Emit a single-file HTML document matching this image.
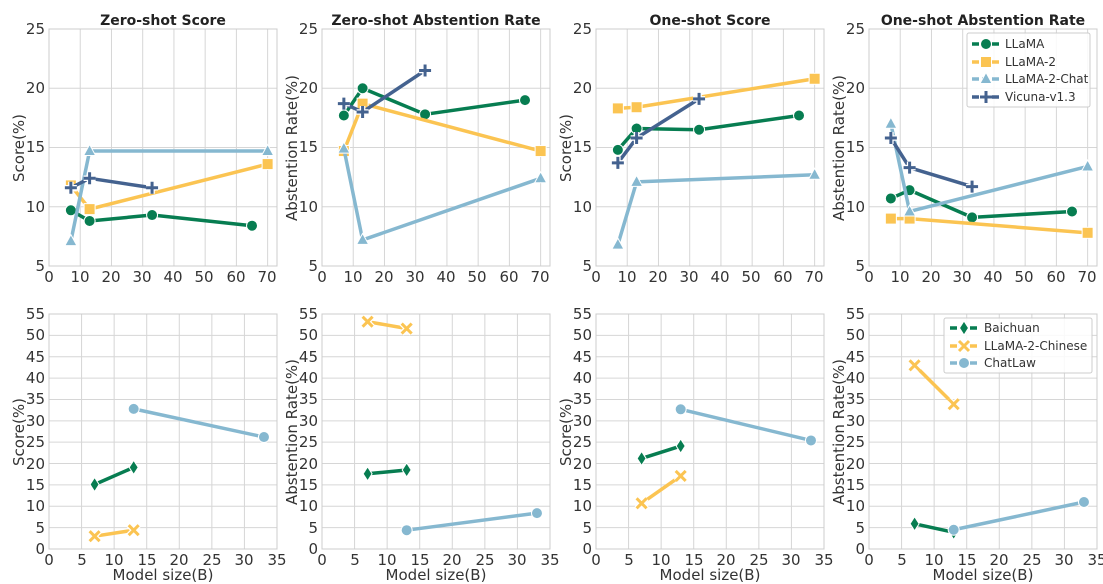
<!DOCTYPE html>
<html><head><meta charset="utf-8"><style>
body{margin:0;background:#fff}
svg{display:block;font-family:"DejaVu Sans","Liberation Sans",sans-serif;}
.t{font-size:15px;fill:#333}
.ti{font-size:14px;font-weight:bold;fill:#222}
.lg{font-size:12px;fill:#333}
</style></head><body>
<svg id="s" width="1103" height="584" xmlns="http://www.w3.org/2000/svg">
<g id="grid"></g>
<g id="ser"></g>
<text class="ti" x="163" y="25" text-anchor="middle">Zero-shot Score</text>
<text class="ti" x="436" y="25" text-anchor="middle">Zero-shot Abstention Rate</text>
<text class="ti" x="710" y="25" text-anchor="middle">One-shot Score</text>
<text class="ti" x="983" y="25" text-anchor="middle">One-shot Abstention Rate</text>
<text class="t" transform="translate(24,148) rotate(-90)" text-anchor="middle">Score(%)</text>
<text class="t" transform="translate(297,148) rotate(-90)" text-anchor="middle">Abstention Rate(%)</text>
<text class="t" transform="translate(571,148) rotate(-90)" text-anchor="middle">Score(%)</text>
<text class="t" transform="translate(844,148) rotate(-90)" text-anchor="middle">Abstention Rate(%)</text>
<text class="t" transform="translate(24,432) rotate(-90)" text-anchor="middle">Score(%)</text>
<text class="t" transform="translate(297,432) rotate(-90)" text-anchor="middle">Abstention Rate(%)</text>
<text class="t" transform="translate(571,432) rotate(-90)" text-anchor="middle">Score(%)</text>
<text class="t" transform="translate(844,432) rotate(-90)" text-anchor="middle">Abstention Rate(%)</text>
<text class="t" x="163" y="580" text-anchor="middle">Model size(B)</text>
<text class="t" x="436" y="580" text-anchor="middle">Model size(B)</text>
<text class="t" x="710" y="580" text-anchor="middle">Model size(B)</text>
<text class="t" x="983" y="580" text-anchor="middle">Model size(B)</text>
<g transform="translate(49,29)" class="t">
<g text-anchor="end"><text x="-4" y="5">25</text><text x="-4" y="64">20</text><text x="-4" y="123">15</text><text x="-4" y="183">10</text><text x="-4" y="242">5</text></g>
<g text-anchor="middle"><text x="0" y="253">0</text><text x="31" y="253">10</text><text x="62" y="253">20</text><text x="93" y="253">30</text><text x="124" y="253">40</text><text x="155" y="253">50</text><text x="187" y="253">60</text><text x="218" y="253">70</text></g>
</g>
<g transform="translate(322,29)" class="t">
<g text-anchor="end"><text x="-4" y="5">25</text><text x="-4" y="64">20</text><text x="-4" y="123">15</text><text x="-4" y="183">10</text><text x="-4" y="242">5</text></g>
<g text-anchor="middle"><text x="0" y="253">0</text><text x="31" y="253">10</text><text x="62" y="253">20</text><text x="93" y="253">30</text><text x="124" y="253">40</text><text x="155" y="253">50</text><text x="187" y="253">60</text><text x="218" y="253">70</text></g>
</g>
<g transform="translate(596,29)" class="t">
<g text-anchor="end"><text x="-4" y="5">25</text><text x="-4" y="64">20</text><text x="-4" y="123">15</text><text x="-4" y="183">10</text><text x="-4" y="242">5</text></g>
<g text-anchor="middle"><text x="0" y="253">0</text><text x="31" y="253">10</text><text x="62" y="253">20</text><text x="93" y="253">30</text><text x="124" y="253">40</text><text x="155" y="253">50</text><text x="187" y="253">60</text><text x="218" y="253">70</text></g>
</g>
<g transform="translate(869,29)" class="t">
<g text-anchor="end"><text x="-4" y="5">25</text><text x="-4" y="64">20</text><text x="-4" y="123">15</text><text x="-4" y="183">10</text><text x="-4" y="242">5</text></g>
<g text-anchor="middle"><text x="0" y="253">0</text><text x="31" y="253">10</text><text x="62" y="253">20</text><text x="93" y="253">30</text><text x="124" y="253">40</text><text x="155" y="253">50</text><text x="187" y="253">60</text><text x="218" y="253">70</text></g>
</g>
<g transform="translate(49,314)" class="t">
<g text-anchor="end"><text x="-4" y="5">55</text><text x="-4" y="26">50</text><text x="-4" y="48">45</text><text x="-4" y="69">40</text><text x="-4" y="90">35</text><text x="-4" y="112">30</text><text x="-4" y="133">25</text><text x="-4" y="155">20</text><text x="-4" y="176">15</text><text x="-4" y="197">10</text><text x="-4" y="219">5</text><text x="-4" y="240">0</text></g>
<g text-anchor="middle"><text x="0" y="251">0</text><text x="33" y="251">5</text><text x="65" y="251">10</text><text x="98" y="251">15</text><text x="130" y="251">20</text><text x="163" y="251">25</text><text x="195" y="251">30</text><text x="228" y="251">35</text></g>
</g>
<g transform="translate(322,314)" class="t">
<g text-anchor="end"><text x="-4" y="5">55</text><text x="-4" y="26">50</text><text x="-4" y="48">45</text><text x="-4" y="69">40</text><text x="-4" y="90">35</text><text x="-4" y="112">30</text><text x="-4" y="133">25</text><text x="-4" y="155">20</text><text x="-4" y="176">15</text><text x="-4" y="197">10</text><text x="-4" y="219">5</text><text x="-4" y="240">0</text></g>
<g text-anchor="middle"><text x="0" y="251">0</text><text x="33" y="251">5</text><text x="65" y="251">10</text><text x="98" y="251">15</text><text x="130" y="251">20</text><text x="163" y="251">25</text><text x="195" y="251">30</text><text x="228" y="251">35</text></g>
</g>
<g transform="translate(596,314)" class="t">
<g text-anchor="end"><text x="-4" y="5">55</text><text x="-4" y="26">50</text><text x="-4" y="48">45</text><text x="-4" y="69">40</text><text x="-4" y="90">35</text><text x="-4" y="112">30</text><text x="-4" y="133">25</text><text x="-4" y="155">20</text><text x="-4" y="176">15</text><text x="-4" y="197">10</text><text x="-4" y="219">5</text><text x="-4" y="240">0</text></g>
<g text-anchor="middle"><text x="0" y="251">0</text><text x="33" y="251">5</text><text x="65" y="251">10</text><text x="98" y="251">15</text><text x="130" y="251">20</text><text x="163" y="251">25</text><text x="195" y="251">30</text><text x="228" y="251">35</text></g>
</g>
<g transform="translate(869,314)" class="t">
<g text-anchor="end"><text x="-4" y="5">55</text><text x="-4" y="26">50</text><text x="-4" y="48">45</text><text x="-4" y="69">40</text><text x="-4" y="90">35</text><text x="-4" y="112">30</text><text x="-4" y="133">25</text><text x="-4" y="155">20</text><text x="-4" y="176">15</text><text x="-4" y="197">10</text><text x="-4" y="219">5</text><text x="-4" y="240">0</text></g>
<g text-anchor="middle"><text x="0" y="251">0</text><text x="33" y="251">5</text><text x="65" y="251">10</text><text x="98" y="251">15</text><text x="130" y="251">20</text><text x="163" y="251">25</text><text x="195" y="251">30</text><text x="228" y="251">35</text></g>
</g>
<g id="legbg"></g>
<g id="leg1"></g>
<text class="lg" x="1005" y="48">LLaMA</text>
<text class="lg" x="1005" y="66">LLaMA-2</text>
<text class="lg" x="1005" y="83">LLaMA-2-Chat</text>
<text class="lg" x="1005" y="101">Vicuna-v1.3</text>
<g id="leg2"></g>
<text class="lg" x="984" y="332">Baichuan</text>
<text class="lg" x="984" y="350">LLaMA-2-Chinese</text>
<text class="lg" x="984" y="367">ChatLaw</text>
</svg>
<script>
(function(){
const NS="http://www.w3.org/2000/svg";
const G=document.getElementById('grid'),S=document.getElementById('ser');
function el(p,t,a){const e=document.createElementNS(NS,t);for(const k in a)e.setAttribute(k,a[k]);p.appendChild(e);return e;}
const Ls=[49,322,596,869],W=228;
const C={g:'#077d51',y:'#fbc452',lb:'#86b8d0',db:'#44628f'};
function mk(p,type,x,y,c){
 const st={stroke:'#fff','stroke-width':1};
 if(type=='o')el(p,'circle',Object.assign({cx:x,cy:y,r:5.5,fill:c},st));
 else if(type=='s')el(p,'rect',Object.assign({x:x-5.5,y:y-5.5,width:11,height:11,fill:c},st));
 else if(type=='^')el(p,'polygon',Object.assign({points:`${x},${y-6.5} ${x+6},${y+4.5} ${x-6},${y+4.5}`,fill:c},st));
 else if(type=='d')el(p,'polygon',Object.assign({points:`${x},${y-7} ${x+4.5},${y} ${x},${y+7} ${x-4.5},${y}`,fill:c},st));
 else if(type=='+'){const d=`M${x-6} ${y}H${x+6}M${x} ${y-6}V${y+6}`;el(p,'path',{d:d,stroke:'#fff','stroke-width':5.5});el(p,'path',{d:d,stroke:c,'stroke-width':3});}
 else if(type=='x'){const d=`M${x-5} ${y-5}L${x+5} ${y+5}M${x+5} ${y-5}L${x-5} ${y+5}`;el(p,'path',{d:d,stroke:'#fff','stroke-width':5.5});el(p,'path',{d:d,stroke:c,'stroke-width':3});}
}
Ls.forEach(L=>{
 for(let v=0;v<=70;v+=10){const x=L+v*W/73;el(G,'line',{x1:x,x2:x,y1:29,y2:266,stroke:'#d6d6d6'});}
 for(let v=5;v<=25;v+=5){const y=266-(v-5)*237/20;el(G,'line',{x1:L,x2:L+W,y1:y,y2:y,stroke:'#d6d6d6'});}
 el(G,'rect',{x:L,y:29,width:W,height:237,fill:'none',stroke:'#ccc'});
 for(let v=0;v<=35;v+=5){const x=L+v*W/35;el(G,'line',{x1:x,x2:x,y1:314,y2:549,stroke:'#d6d6d6'});}
 for(let v=0;v<=55;v+=5){const y=549-v*235/55;el(G,'line',{x1:L,x2:L+W,y1:y,y2:y,stroke:'#d6d6d6'});}
 el(G,'rect',{x:L,y:314,width:W,height:235,fill:'none',stroke:'#ccc'});
});
const topD=[
 {L:[9.7,8.8,9.3,8.4],L2:[11.8,9.8,13.6],C:[7.1,14.7,14.7],V:[11.6,12.4,11.6]},
 {L:[17.7,20.0,17.8,19.0],L2:[14.7,18.7,14.7],C:[14.9,7.2,12.4],V:[18.7,18.0,21.5]},
 {L:[14.8,16.6,16.5,17.7],L2:[18.3,18.4,20.8],C:[6.8,12.1,12.7],V:[13.7,15.8,19.1]},
 {L:[10.7,11.4,9.1,9.6],L2:[9.0,9.0,7.8],C:[17.0,9.6,13.4],V:[15.8,13.3,11.7]}];
const botD=[
 {B:[15.1,19.1],X:[3.0,4.4],CL:[32.8,26.2]},
 {B:[17.6,18.5],X:[53.2,51.6],CL:[4.4,8.4]},
 {B:[21.2,24.1],X:[10.7,17.1],CL:[32.7,25.4]},
 {B:[5.9,3.9],X:[43.0,33.9],CL:[4.5,11.0]}];
function series(xs,ys,c,m,fx,fy){
 const pts=xs.map((x,i)=>[fx(x),fy(ys[i])]);
 el(S,'polyline',{points:pts.map(p=>p.join(',')).join(' '),fill:'none',stroke:c,'stroke-width':3.5,'stroke-linejoin':'round'});
 pts.forEach(p=>mk(S,m,p[0],p[1],c));
}
Ls.forEach((L,i)=>{
 const fx=v=>L+v*W/73,fy=v=>266-(v-5)*237/20,d=topD[i];
 series([7,13,33,65],d.L,C.g,'o',fx,fy);
 series([7,13,70],d.L2,C.y,'s',fx,fy);
 series([7,13,70],d.C,C.lb,'^',fx,fy);
 series([7,13,33],d.V,C.db,'+',fx,fy);
 const gx=v=>L+v*W/35,gy=v=>549-v*235/55,b=botD[i];
 series([7,13],b.B,C.g,'d',gx,gy);
 series([7,13],b.X,C.y,'x',gx,gy);
 series([13,33],b.CL,C.lb,'o',gx,gy);
});
const bg=document.getElementById('legbg');
el(bg,'rect',{x:967,y:33,width:123,height:74,fill:'#fff','fill-opacity':0.85,stroke:'#ccc',rx:2});
el(bg,'rect',{x:944,y:318,width:148,height:55,fill:'#fff','fill-opacity':0.85,stroke:'#ccc',rx:2});
const l1=document.getElementById('leg1');
[[C.g,'o',44],[C.y,'s',62],[C.lb,'^',79],[C.db,'+',97]].forEach(([c,m,y])=>{
 el(l1,'line',{x1:972,x2:1000,y1:y,y2:y,stroke:c,'stroke-width':3.5,'stroke-dasharray':'7,3'});mk(l1,m,986,y,c);});
const l2=document.getElementById('leg2');
[[C.g,'d',328],[C.y,'x',346],[C.lb,'o',363]].forEach(([c,m,y])=>{
 el(l2,'line',{x1:950,x2:978,y1:y,y2:y,stroke:c,'stroke-width':3.5,'stroke-dasharray':'7,3'});mk(l2,m,964,y,c);});
})();
</script>
</body></html>
